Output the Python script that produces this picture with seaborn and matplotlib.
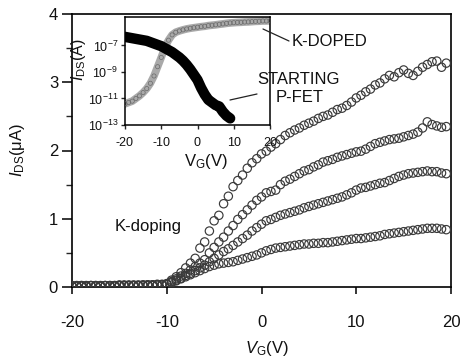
import numpy as np
import pandas as pd
import matplotlib
matplotlib.use("Agg")
import matplotlib.pyplot as plt
from matplotlib.lines import Line2D
import seaborn as sns

# ---- main panel: I_DS vs V_G during K-doping (µA) ----
vg = np.arange(-20, 20, 0.5)

ids_a = [0.02, 0.02, 0.01, 0.02, 0.02, 0.02, 0.01, 0.02, 0.02, 0.02,
         0.03, 0.02, 0.02, 0.03, 0.02, 0.03, 0.03, 0.03, 0.04, 0.04,
         0.05, 0.10, 0.15, 0.21, 0.28, 0.35, 0.42, 0.57, 0.66, 0.82,
         0.97, 1.05, 1.22, 1.33, 1.47, 1.56, 1.64, 1.74, 1.82, 1.88,
         1.95, 1.99, 2.05, 2.10, 2.16, 2.22, 2.26, 2.30, 2.33, 2.37,
         2.40, 2.43, 2.47, 2.50, 2.52, 2.56, 2.60, 2.62, 2.66, 2.71,
         2.77, 2.81, 2.86, 2.90, 2.96, 2.99, 3.05, 3.10, 3.08, 3.14,
         3.18, 3.13, 3.10, 3.16, 3.22, 3.26, 3.30, 3.31, 3.22, 3.28]
ids_b = [0.01, 0.02, 0.02, 0.01, 0.02, 0.02, 0.02, 0.02, 0.01, 0.02,
         0.02, 0.03, 0.02, 0.02, 0.03, 0.02, 0.03, 0.03, 0.03, 0.03,
         0.04, 0.08, 0.12, 0.16, 0.20, 0.25, 0.30, 0.35, 0.40, 0.50,
         0.58, 0.66, 0.73, 0.82, 0.90, 0.99, 1.06, 1.13, 1.20, 1.27,
         1.32, 1.38, 1.40, 1.42, 1.50, 1.55, 1.58, 1.62, 1.66, 1.70,
         1.72, 1.76, 1.79, 1.83, 1.85, 1.87, 1.90, 1.92, 1.94, 1.96,
         1.98, 1.99, 2.02, 2.06, 2.10, 2.12, 2.14, 2.16, 2.17, 2.18,
         2.20, 2.22, 2.24, 2.27, 2.33, 2.42, 2.38, 2.36, 2.34, 2.35]
ids_c = [0.02, 0.01, 0.02, 0.02, 0.02, 0.01, 0.02, 0.02, 0.02, 0.02,
         0.02, 0.02, 0.03, 0.02, 0.02, 0.02, 0.03, 0.02, 0.03, 0.03,
         0.04, 0.07, 0.10, 0.13, 0.17, 0.20, 0.24, 0.28, 0.32, 0.37,
         0.42, 0.47, 0.52, 0.56, 0.61, 0.66, 0.71, 0.76, 0.82, 0.87,
         0.92, 0.97, 0.99, 1.02, 1.05, 1.07, 1.09, 1.11, 1.13, 1.16,
         1.18, 1.20, 1.22, 1.24, 1.26, 1.28, 1.30, 1.32, 1.35, 1.38,
         1.42, 1.45, 1.46, 1.48, 1.50, 1.52, 1.53, 1.56, 1.59, 1.62,
         1.64, 1.66, 1.67, 1.68, 1.69, 1.70, 1.69, 1.69, 1.67, 1.66]
ids_d = [0.01, 0.01, 0.02, 0.01, 0.02, 0.02, 0.01, 0.02, 0.02, 0.01,
         0.02, 0.02, 0.02, 0.02, 0.02, 0.03, 0.02, 0.03, 0.03, 0.03,
         0.04, 0.06, 0.09, 0.12, 0.15, 0.18, 0.21, 0.24, 0.27, 0.30,
         0.32, 0.34, 0.35, 0.36, 0.37, 0.39, 0.41, 0.43, 0.45, 0.47,
         0.50, 0.53, 0.55, 0.57, 0.58, 0.59, 0.60, 0.61, 0.62, 0.63,
         0.63, 0.64, 0.64, 0.65, 0.65, 0.66, 0.67, 0.68, 0.69, 0.70,
         0.71, 0.71, 0.72, 0.73, 0.74, 0.75, 0.77, 0.78, 0.79, 0.80,
         0.81, 0.82, 0.83, 0.84, 0.85, 0.86, 0.86, 0.86, 0.85, 0.84]

main_xticks = [-20, -10, 0, 10, 20]
main_yticks = [0, 1, 2, 3, 4]

# ---- inset: transfer curves on log scale (log10 of I_DS in A) ----
vg_doped = np.arange(-20, 21, 1)
log_ids_doped = [-11.40, -11.30, -11.20, -11.00, -10.80, -10.55, -10.25, -9.85,
                 -9.30, -8.60, -7.90, -7.15, -6.60, -6.20, -6.00, -5.90,
                 -5.82, -5.75, -5.70, -5.66, -5.62, -5.58, -5.55, -5.50,
                 -5.47, -5.44, -5.40, -5.37, -5.33, -5.30, -5.28, -5.26,
                 -5.25, -5.23, -5.22, -5.20, -5.18, -5.17, -5.15, -5.15, -5.14]
vg_start = np.arange(-20, 10, 1)
log_ids_start = [-6.35, -6.40, -6.45, -6.50, -6.55, -6.60, -6.65, -6.75,
                 -6.85, -6.95, -7.05, -7.20, -7.35, -7.50, -7.70, -7.90,
                 -8.15, -8.45, -8.80, -9.20, -9.60, -10.20, -10.70, -11.10,
                 -11.30, -11.50, -11.60, -12.00, -12.30, -12.50]
inset_xticks = [-20, -10, 0, 10, 20]
inset_yticks = [1e-13, 1e-11, 1e-9, 1e-7]

for arr in (ids_a, ids_b, ids_c, ids_d):
    assert len(arr) == len(vg)
assert len(log_ids_doped) == len(vg_doped)
assert len(log_ids_start) == len(vg_start)

sns.set_theme(style="white")
plt.rcParams["font.family"] = ["Liberation Sans", "DejaVu Sans"]
plt.rcParams["mathtext.fontset"] = "custom"
plt.rcParams["mathtext.rm"] = "Liberation Sans"
plt.rcParams["mathtext.it"] = "Liberation Sans:italic"
plt.rcParams["mathtext.default"] = "regular"
plt.rcParams["axes.unicode_minus"] = False

W, H = 463, 363
fig = plt.figure(figsize=(W / 100, H / 100), dpi=100)
fig.patch.set_facecolor("white")


def box(l, t, r, b):
    return [l / W, 1 - b / H, (r - l) / W, (b - t) / H]


def fpx(x, y):
    return x / W, 1 - y / H


ax = fig.add_axes(box(72, 14, 451, 287))
frame = pd.DataFrame({
    "vg": np.concatenate([vg] * 4),
    "ids": np.concatenate([ids_a, ids_b, ids_c, ids_d]),
    "curve": np.repeat(["a", "b", "c", "d"], len(vg)),
})
for name, sub in frame.groupby("curve"):
    sns.scatterplot(data=sub, x="vg", y="ids", ax=ax, marker="o", s=36,
                    facecolors="none", edgecolor="#3a3a3a", linewidth=0.85,
                    legend=False, zorder=3)

ax.set_xlim(-20, 20)
ax.set_ylim(0, 4)
ax.set_xticks(main_xticks)
ax.set_xticklabels([str(v) for v in main_xticks])
ax.set_yticks(main_yticks)
ax.set_yticks([0.5, 1.5, 2.5, 3.5], minor=True)
ax.tick_params(axis="both", which="major", direction="out", color="black",
               labelsize=12, labelcolor="#111")
ax.tick_params(axis="x", which="major", length=5, width=1.1, pad=15, bottom=True)
ax.tick_params(axis="y", which="major", length=7, width=1.1, pad=3, left=True)
ax.tick_params(axis="y", which="minor", length=4, width=1.0, left=True)
for sp in ax.spines.values():
    sp.set_color("black")
    sp.set_linewidth(1.2)
ax.set_xlabel("$\\mathit{V}_{G}$(V)", fontsize=12, color="#111")
ax.set_ylabel("$\\mathit{I}_{DS}$(\u03bcA)", fontsize=12, color="#111")
ax.xaxis.set_label_coords(0.515, -0.19)
ax.yaxis.set_label_coords(-0.118, 0.5)

fig.text(*fpx(115, 226), "K-doping", fontsize=12, color="#111",
         ha="left", va="center")

# inset
ins = fig.add_axes(box(125, 17, 270, 125))
ins.set_yscale("log")
sns.lineplot(x=vg_doped, y=10.0 ** np.array(log_ids_doped), ax=ins,
             color="#a9a9a9", lw=5.5, zorder=2)
sns.scatterplot(x=vg_doped, y=10.0 ** np.array(log_ids_doped), ax=ins,
                marker="o", s=9, facecolors="none", edgecolor="#6a6a6a",
                linewidth=0.5, legend=False, zorder=3)
sns.lineplot(x=vg_start, y=10.0 ** np.array(log_ids_start), ax=ins,
             color="black", lw=7.5, zorder=4)
ins.set_xlim(-20, 20)
ins.set_ylim(1e-13, 10 ** -4.85)
ins.set_xticks(inset_xticks)
ins.set_xticklabels([str(v) for v in inset_xticks])
ins.set_yticks(inset_yticks)
ins.yaxis.set_minor_locator(matplotlib.ticker.NullLocator())
ins.tick_params(axis="both", which="major", direction="out", length=3,
                width=1.0, labelsize=9, labelcolor="#111",
                bottom=True, left=True)
ins.tick_params(axis="x", pad=6)
ins.tick_params(axis="y", pad=2)
for sp in ins.spines.values():
    sp.set_color("black")
    sp.set_linewidth(1.1)
ins.set_xlabel("V$_{G}$(V)", fontsize=12, color="#111")
ins.set_ylabel("$\\mathit{I}_{DS}$(A)", fontsize=11.5, color="#111")
ins.xaxis.set_label_coords(0.56, -0.25)
ins.yaxis.set_label_coords(-0.255, 0.61)

# callouts
fig.text(*fpx(292, 42), "K-DOPED", fontsize=12, color="#111",
         ha="left", va="center")
fig.text(*fpx(299, 80), "STARTING", fontsize=12, color="#111",
         ha="center", va="center")
fig.text(*fpx(300, 98), "P-FET", fontsize=12, color="#111",
         ha="center", va="center")
for (x0, y0), (x1, y1) in [((263, 29), (289, 41)), ((230, 100), (257, 94))]:
    a, b = fpx(x0, y0)
    c, d = fpx(x1, y1)
    fig.add_artist(Line2D([a, c], [b, d], transform=fig.transFigure,
                          color="#222", lw=0.9))

fig.savefig("out.png", dpi=100, facecolor="white")
